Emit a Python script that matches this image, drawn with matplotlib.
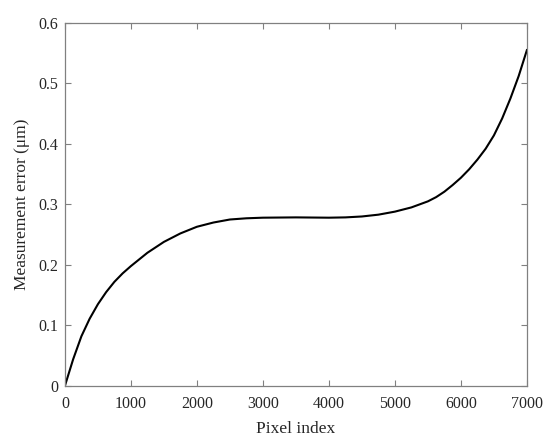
import matplotlib
matplotlib.use("Agg")
import matplotlib.pyplot as plt

# Values (denser where it bends most)
pixel_index = [0, 125, 250, 375, 500, 625, 750, 875, 1000, 1250, 1500, 1750,
               2000, 2250, 2500, 2750, 3000, 3500, 4000, 4250, 4500, 4750,
               5000, 5250, 5500, 5625, 5750, 5875, 6000, 6125, 6250, 6375,
               6500, 6625, 6750, 6875, 7000]
meas_error = [0.0, 0.044, 0.082, 0.111, 0.135, 0.155, 0.172, 0.186, 0.198,
              0.220, 0.238, 0.252, 0.263, 0.270, 0.275, 0.277, 0.278, 0.2785,
              0.278, 0.2785, 0.280, 0.283, 0.288, 0.295, 0.305, 0.312, 0.321,
              0.332, 0.344, 0.358, 0.374, 0.392, 0.414, 0.442, 0.475, 0.512,
              0.555]

x_ticks = [0, 1000, 2000, 3000, 4000, 5000, 6000, 7000]
y_ticks = [0, 0.1, 0.2, 0.3, 0.4, 0.5, 0.6]
y_tick_labels = ['0', '0.1', '0.2', '0.3', '0.4', '0.5', '0.6']

plt.rcParams['font.family'] = ['Liberation Serif', 'DejaVu Serif']

fig = plt.figure(figsize=(5.5, 4.4), dpi=100)
ax = fig.add_axes([0.118, 0.123, 0.840, 0.825])

ax.plot(pixel_index, meas_error, color='black', linewidth=1.5,
        solid_joinstyle='round')

ax.set_xlim(0, 7000)
ax.set_ylim(0, 0.6)
ax.set_xticks(x_ticks)
ax.set_yticks(y_ticks)
ax.set_xticklabels([str(t) for t in x_ticks])
ax.set_yticklabels(y_tick_labels)

ax.tick_params(direction='in', length=4, width=0.8, color='#808080',
               labelcolor='#262626', labelsize=11.5, top=True, right=True)
ax.tick_params(axis='x', pad=7)
ax.tick_params(axis='y', pad=5)
for sp in ax.spines.values():
    sp.set_color('#808080')
    sp.set_linewidth(0.9)

ax.set_xlabel('Pixel index', fontsize=12.5, color='#262626', labelpad=7)
ax.set_ylabel('Measurement error (μm)', fontsize=12.5, color='#262626', labelpad=6)

fig.savefig('out.png', dpi=100)
plt.close(fig)
